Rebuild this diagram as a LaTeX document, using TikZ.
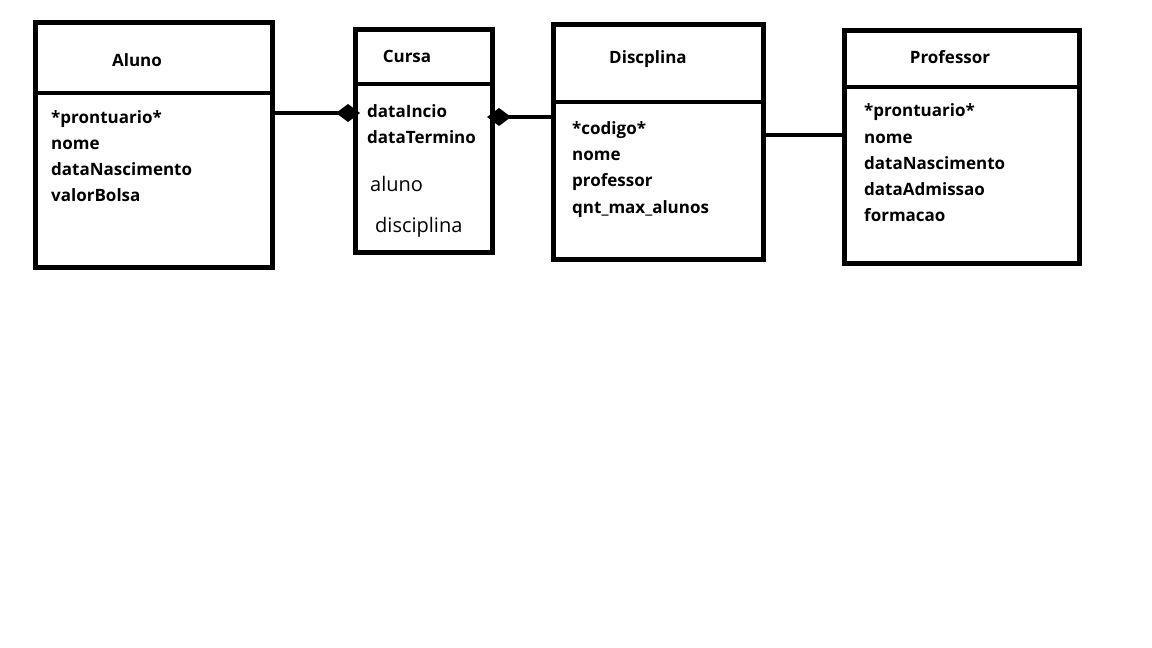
\documentclass[tikz,border=0pt]{standalone}
\usepackage{fontspec}
\setmainfont{Open Sans}
\usetikzlibrary{arrows.meta}
\tikzset{
  box/.style={draw=black, line width=4.5pt, inner sep=0pt, outer sep=0pt, anchor=north west},
  sep/.style={line width=4.5pt},
  conn/.style={line width=4.5pt},
  title/.style={font=\fontsize{17}{20}\selectfont\bfseries, inner sep=0pt, anchor=mid},
  attr/.style={font=\fontsize{17}{20}\selectfont\bfseries, inner sep=0pt, anchor=mid west},
  plain/.style={font=\fontsize{20}{24}\selectfont, inner sep=0pt, anchor=mid west},
  dia/.style={-{Diamond[length=24pt,width=18pt]}}
}
\begin{document}
\begin{tikzpicture}[x=1pt,y=-1pt]
\useasboundingbox (0,0) rectangle (1152,648);
\fill[white] (0,0) rectangle (1152,648);
% Aluno
\node[box, minimum width=237pt, minimum height=245pt] (aluno) at (35.5,22.5) {};
\draw[sep] (aluno.west |- 0,93) -- (aluno.east |- 0,93);
\node[title] (alunoT) at (137,64) {Aluno};
\node[attr] (a1) at (51,121) {*prontuario*};
\node[attr] (a2) at (51,147) {nome};
\node[attr] (a3) at (51,173) {dataNascimento};
\node[attr] (a4) at (51,199) {valorBolsa};
% Cursa
\node[box, minimum width=137pt, minimum height=223pt] (cursa) at (355.5,29.5) {};
\draw[sep] (cursa.west |- 0,84) -- (cursa.east |- 0,84);
\node[title] (cursaT) at (407,60) {Cursa};
\node[attr] (c1) at (367,115) {dataIncio};
\node[attr] (c2) at (367,141) {dataTermino};
\node[plain] (c3) at (370,189) {aluno};
\node[plain] (c4) at (375,230) {disciplina};
% Discplina
\node[box, minimum width=210pt, minimum height=235pt] (disc) at (553.5,24.5) {};
\draw[sep] (disc.west |- 0,102) -- (disc.east |- 0,102);
\node[title] (discT) at (648,61) {Discplina};
\node[attr] (d1) at (572,132) {*codigo*};
\node[attr] (d2) at (572,158) {nome};
\node[attr] (d3) at (572,184) {professor};
\node[attr] (d4) at (572,211) {qnt\_max\_alunos};
% Professor
\node[box, minimum width=235pt, minimum height=233pt] (prof) at (844.5,30.5) {};
\draw[sep] (prof.west |- 0,87) -- (prof.east |- 0,87);
\node[title] (profT) at (950,61) {Professor};
\node[attr] (p1) at (864,114) {*prontuario*};
\node[attr] (p2) at (864,141) {nome};
\node[attr] (p3) at (864,167) {dataNascimento};
\node[attr] (p4) at (864,193) {dataAdmissao};
\node[attr] (p5) at (864,219) {formacao};
% connectors
\coordinate (e1) at (360,113);
\draw[conn, dia] (aluno.east |- 0,113) -- (e1);
\coordinate (e2) at (487,117);
\draw[conn, dia] (disc.west |- 0,117) -- (e2);
\draw[conn] (disc.east |- 0,135) -- (prof.west |- 0,135);
\end{tikzpicture}
\end{document}
